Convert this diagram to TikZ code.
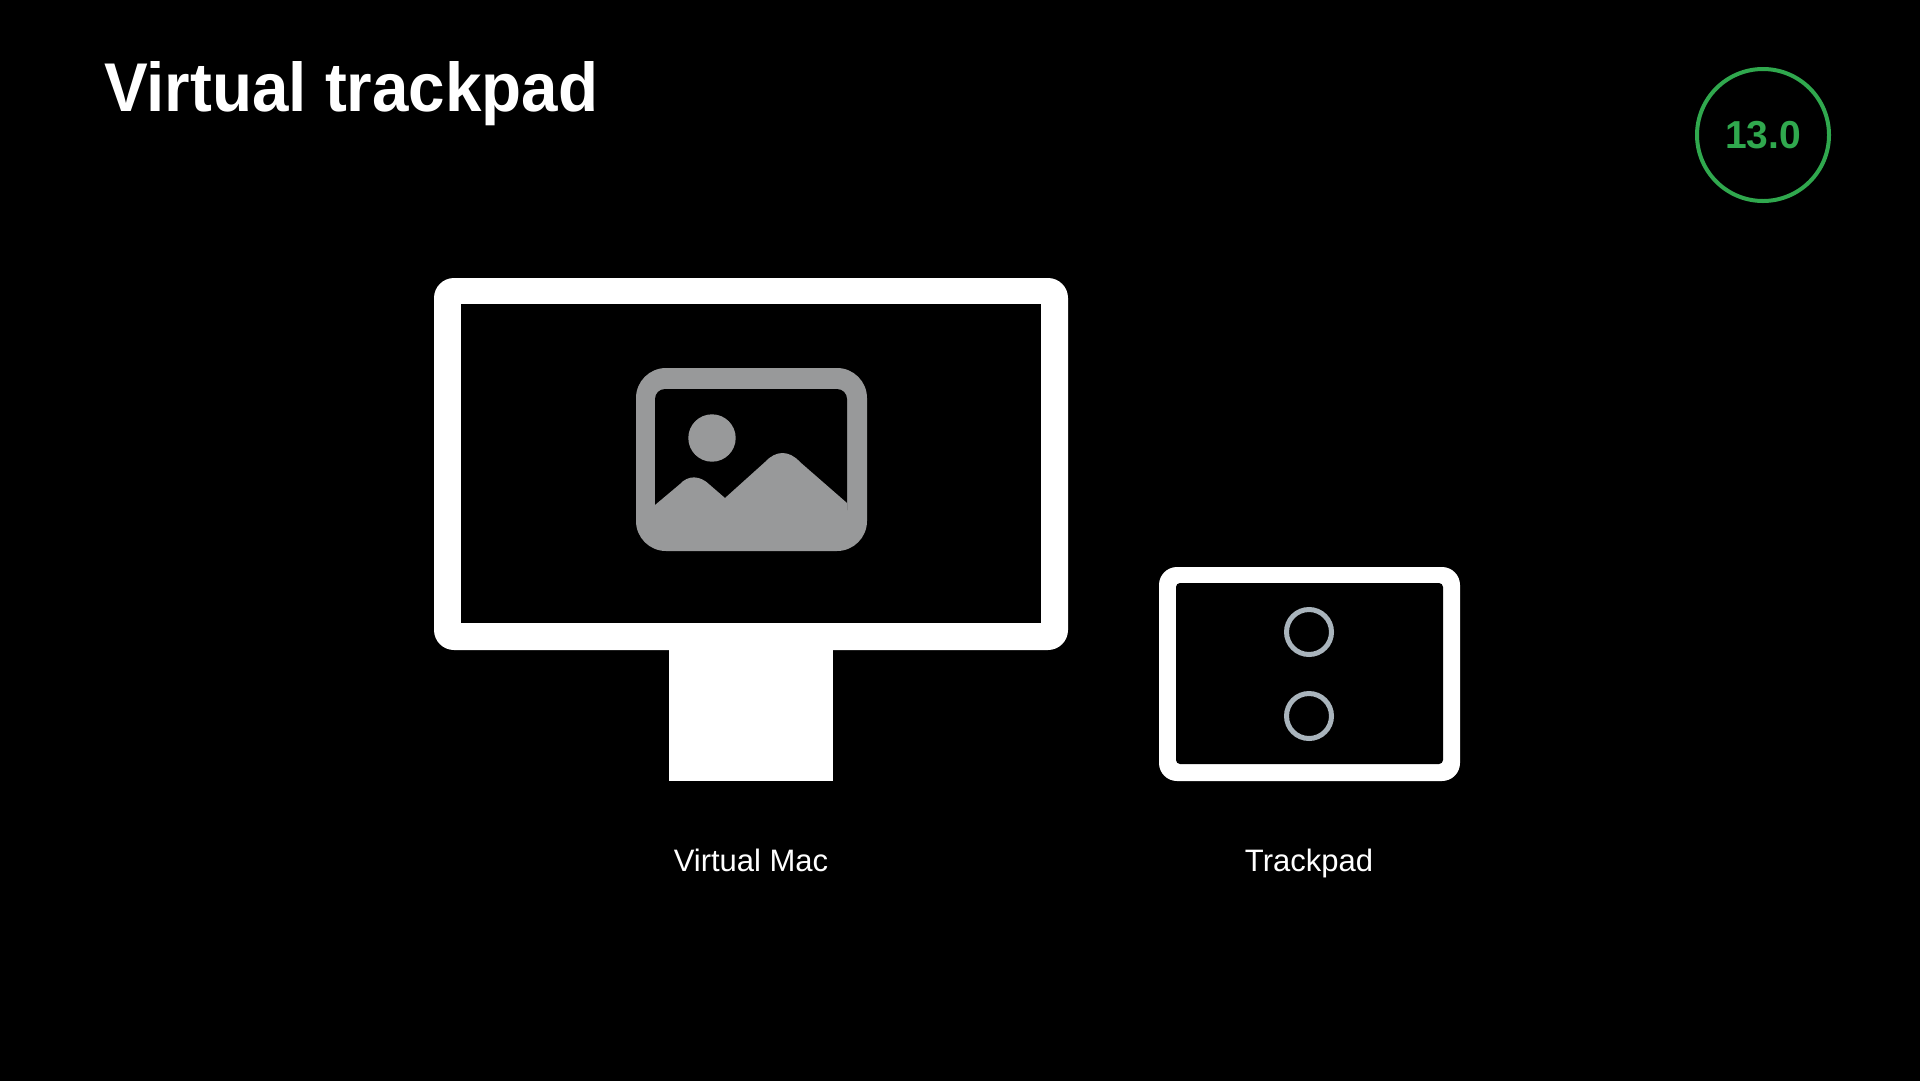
\documentclass[tikz,border=0pt]{standalone}
\usepackage{fontspec}
\setmainfont{Liberation Sans}
\newfontfamily\titlefont[FakeStretch=0.95]{Liberation Sans}
\definecolor{photogray}{HTML}{98999A}
\definecolor{touchgray}{HTML}{A9B4BC}
\definecolor{badgegreen}{HTML}{30A84E}
\tikzset{
    frameouter/.style={fill=white,rounded corners=#1},
    frameinner/.style={fill=black,rounded corners=#1},
    caption/.style={anchor=base,text=white,inner sep=0pt,font=\fontsize{31}{36}\selectfont},
    touchpoint/.style={circle,draw=touchgray,line width=5pt,minimum size=45pt,inner sep=0pt},
}
\begin{document}
\begin{tikzpicture}[x=1pt,y=-1pt]
    \useasboundingbox (0,0) rectangle (1920,1080);
    \fill[black] (-5,-5) rectangle (1925,1085);
    \node[anchor=base west,text=white,inner sep=0pt,font=\titlefont\fontsize{69}{80}\bfseries\selectfont] (title) at (104,111) {Virtual trackpad};
    % version badge
    \node[circle,draw=badgegreen,line width=4pt,minimum size=132pt,inner sep=0pt,text=badgegreen,font=\fontsize{39}{46}\bfseries\selectfont] (badge) at (1763,135) {13.0};
    % virtual mac
    \fill[white] (668.5,640) rectangle (833,781);
    \fill[frameouter=20pt] (434,278) rectangle (1068,650);
    \fill[black] (461,304) rectangle (1041,623);
    \fill[photogray,rounded corners=30pt] (636,368) rectangle (867,551);
    \fill[frameinner=10pt] (655,389) rectangle (847,520);
    \fill[photogray] (655,505) -- (680,484) .. controls (688,475) and (700,475) .. (710,485) -- (725,498) -- (765,462) .. controls (776,450) and (789,450) .. (800,462) -- (847,503) -- (847,535) -- (655,535) -- cycle;
    \fill[photogray] (712,438) circle (23.7pt);
    \node[caption] (maclabel) at (751,871) {Virtual Mac};
    % trackpad
    \fill[frameouter=18pt] (1159,567) rectangle (1460,781);
    \fill[frameinner=4pt] (1176,583) rectangle (1443,764);
    \node[touchpoint] (touchtop) at (1309,632) {};
    \node[touchpoint] (touchbottom) at (1309,716) {};
    \node[caption] (padlabel) at (1309,871) {Trackpad};
\end{tikzpicture}
\end{document}
